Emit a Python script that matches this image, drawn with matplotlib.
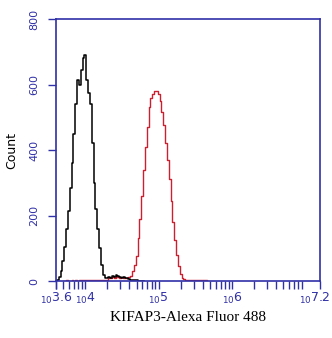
import numpy as np
import matplotlib
matplotlib.use("Agg")
import matplotlib.pyplot as plt
import matplotlib.transforms as mtransforms
from matplotlib.ticker import FixedLocator, NullFormatter

# --- data (log10 bin centres, counts) ---
black_start, bin_step = 3.600, 0.025
black_counts = [0, 3, 12, 30, 60, 105, 160, 215, 285, 360, 450, 540, 615, 600,
                645, 680, 690, 615, 575, 540, 420, 300, 220, 160, 100, 50, 18,
                8, 10, 12, 10, 15, 12, 18, 14, 12, 10, 12, 8, 8, 5, 3, 3, 2, 2,
                1, 1, 0, 0]
red_start = 3.700
red_counts = [0, 0, 2, 0, 1, 2, 0, 2, 1, 2, 3, 2, 2, 3, 2, 3, 2, 2, 3, 2, 3, 3,
              2, 3, 3,
              8, 10, 12, 10, 14, 12, 10, 12, 10, 8, 10, 12,
              15, 30, 50, 75, 130, 190, 260, 340, 410, 470, 530, 560, 570, 580,
              580, 572, 550, 515, 475, 420, 370, 310, 245, 180, 125, 80, 45, 20,
              10, 5,
              4, 3, 4, 3, 3, 4, 3, 4, 3, 3, 2, 3, 0]
x_tick_exps = [3.6, 4, 5, 6, 7.2]
x_tick_labels = ["3.6", "4", "5", "6", "7.2"]
y_ticks = [0, 200, 400, 600, 800]
xlabel = "KIFAP3-Alexa Fluor 488"
ylabel = "Count"

blue = "#3030a8"
fig = plt.figure(figsize=(3.32, 3.38), dpi=100)
ax = fig.add_axes([0.1687, 0.1686, 0.7952, 0.7752])

bx = 10 ** (black_start + bin_step * np.arange(len(black_counts)))
rx = 10 ** (red_start + bin_step * np.arange(len(red_counts)))
ax.plot(rx, red_counts, color="#cc2030", lw=1.0, drawstyle="steps-mid")
ax.plot(bx, black_counts, color="black", lw=1.1, drawstyle="steps-mid")

ax.set_xscale("log")
ax.set_xlim(10 ** 3.6, 10 ** 7.2)
ax.set_ylim(0, 800)

for s in ax.spines.values():
    s.set_color(blue)
    s.set_linewidth(1.2)

major = [10 ** e for e in x_tick_exps]
ax.xaxis.set_major_locator(FixedLocator(major))
ax.set_xticklabels(["$_{10}$" + t for t in x_tick_labels])
minor = []
for d in range(3, 8):
    for m in range(2, 10):
        v = m * 10 ** d
        if 10 ** 3.6 < v < 10 ** 7.2:
            minor.append(v)
ax.xaxis.set_minor_locator(FixedLocator(minor))
ax.xaxis.set_minor_formatter(NullFormatter())
ax.tick_params(axis="x", which="both", direction="out", length=6, width=1,
               color=blue, labelcolor=blue, labelsize=9, pad=1)
last = ax.get_xticklabels()[-1]
last.set_transform(last.get_transform() +
                   mtransforms.ScaledTranslation(-5 / 100, 0, fig.dpi_scale_trans))

ax.set_yticks(y_ticks)
ax.tick_params(axis="y", direction="out", length=6, width=1, color=blue,
               labelcolor=blue, labelsize=8, pad=6)
for lab in ax.get_yticklabels():
    lab.set_rotation(90)
    lab.set_va("center")

ax.set_ylabel(ylabel, fontsize=9, family="DejaVu Sans", labelpad=8)
ax.set_xlabel(xlabel, fontsize=11, family="Liberation Serif", labelpad=4)

fig.savefig("out.png", dpi=100)
